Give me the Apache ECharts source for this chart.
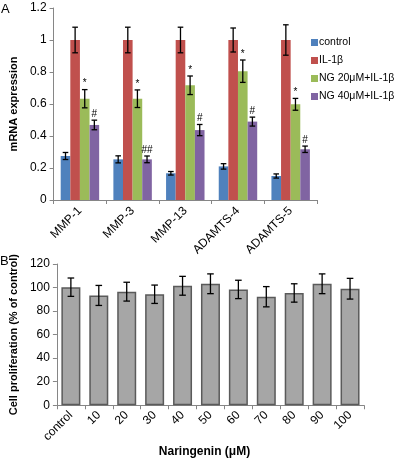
<!DOCTYPE html>
<html><head><meta charset="utf-8">
<script src="https://cdn.jsdelivr.net/npm/echarts@6/dist/echarts.min.js"></script>
<style>html,body{margin:0;padding:0;background:#fff}#c{width:400px;height:459px}</style>
</head><body><div id="c"></div>
<script>
// Panel A data
const genes = ['MMP-1','MMP-3','MMP-13','ADAMTS-4','ADAMTS-5'];
const groupNames = ['control','IL-1β','NG 20μM+IL-1β','NG 40μM+IL-1β'];
const controlVals = [0.275, 0.254, 0.167, 0.21, 0.15];
const controlErr  = [0.022, 0.022, 0.011, 0.017, 0.013];
const il1bVals = [1.0, 1.0, 1.0, 1.0, 1.0];
const il1bErr  = [0.08, 0.08, 0.08, 0.075, 0.095];
const ng20Vals = [0.633, 0.633, 0.717, 0.805, 0.598];
const ng20Err  = [0.057, 0.055, 0.058, 0.07, 0.037];
const ng40Vals = [0.469, 0.254, 0.437, 0.49, 0.317];
const ng40Err  = [0.03, 0.021, 0.035, 0.028, 0.02];
const ng20Marks = ['*','*','*','*','*'];
const ng40Marks = ['#','##','#','#','#'];
const yTicksA = [0, 0.2, 0.4, 0.6, 0.8, 1, 1.2];
// Panel B data
const doses = ['control','10','20','30','40','50','60','70','80','90','100'];
const prolifVals = [100.3, 93.3, 96.5, 94.3, 101.5, 103.2, 98.4, 92.2, 95.4, 103.2, 99];
const prolifErr  = [7.8, 8.5, 8, 7.8, 8, 8.4, 7.8, 8.6, 7.8, 8.4, 8.8];
const yTicksB = [0, 20, 40, 60, 80, 100, 120];

const colors = ['#4f81bd','#c0504d','#9bbb59','#8064a2'];
const FONT = 'Liberation Sans, Arial, sans-serif';
const GAP_A = 0.27;
const vals = [controlVals, il1bVals, ng20Vals, ng40Vals];
const errs = [controlErr, il1bErr, ng20Err, ng40Err];
const marks = [null, null, ng20Marks, ng40Marks];

function errSeries(g) {
  return {
    type: 'custom', xAxisIndex: 0, yAxisIndex: 0, z: 10, silent: true,
    data: genes.map((n, i) => [i, vals[g][i], errs[g][i], marks[g] ? marks[g][i] : '']),
    encode: {x: 0, y: 1},
    renderItem: function (params, api) {
      const i = api.value(0), v = api.value(1), e = api.value(2);
      const c = api.coord([i, v]);
      const t = api.coord([i, v + e]);
      const b = api.coord([i, v - e]);
      const catW = api.size([1, 0])[0];
      const bw = catW * (1 - GAP_A) / 4;
      const x = c[0] + (g - 1.5) * bw;
      const cap = 2.8;
      const st = {stroke: '#000', lineWidth: 1.3};
      const ch = [
        {type: 'line', shape: {x1: x, y1: t[1], x2: x, y2: b[1]}, style: st},
        {type: 'line', shape: {x1: x - cap, y1: t[1], x2: x + cap, y2: t[1]}, style: st},
        {type: 'line', shape: {x1: x - cap, y1: b[1], x2: x + cap, y2: b[1]}, style: st}
      ];
      const m = api.value(3);
      if (m) ch.push({type: 'text', style: {text: m, x: x, y: t[1] - 1, align: 'center', verticalAlign: 'bottom', fontSize: 10, fontFamily: FONT, fill: '#000'}});
      return {type: 'group', children: ch};
    }
  };
}

const axisLine = {show: true, lineStyle: {color: '#868686', width: 1}};
const axisTick = {show: true, length: 4, lineStyle: {color: '#868686'}};
const labelStyle = {color: '#000', fontSize: 12, fontFamily: FONT};

const option = {
  animation: false,
  backgroundColor: '#fff',
  textStyle: {fontFamily: FONT},
  graphic: [
    {type: 'text', left: 1, top: 3, style: {text: 'A', fontSize: 13, fontFamily: FONT, fill: '#000'}},
    {type: 'text', left: 0, top: 255, style: {text: 'B', fontSize: 13, fontFamily: FONT, fill: '#000'}}
  ],
  legend: {
    orient: 'vertical', left: 309, top: 35, itemWidth: 7, itemHeight: 7, itemGap: 7,
    icon: 'rect', data: groupNames, padding: 2,
    textStyle: {fontSize: 10.5, fontFamily: FONT, color: '#000', padding: [0, 0, 0, -4]}
  },
  grid: [
    {left: 42, top: 8, width: 275, height: 192},
    {left: 43, top: 264, width: 321, height: 148}
  ],
  xAxis: [
    {type: 'category', gridIndex: 0, data: genes, axisLine, axisTick,
     axisLabel: Object.assign({rotate: 45, margin: 9, interval: 0}, labelStyle)},
    {type: 'category', gridIndex: 1, data: doses, axisLine, axisTick,
     axisLabel: Object.assign({rotate: 45, margin: 8, interval: 0}, labelStyle),
     name: 'Naringenin (μM)', nameLocation: 'middle', nameGap: 38,
     nameTextStyle: {fontSize: 12, fontWeight: 'bold', fontFamily: FONT, color: '#000', padding: [0, 12, 0, 0]}}
  ],
  yAxis: [
    {type: 'value', gridIndex: 0, min: 0, max: 1.2, interval: 0.2, splitLine: {show: false},
     axisLine, axisTick, axisLabel: Object.assign({margin: 7}, labelStyle),
     name: 'mRNA expression', nameLocation: 'middle', nameGap: 25,
     nameTextStyle: {fontSize: 11, fontWeight: 'bold', fontFamily: FONT, color: '#000'}},
    {type: 'value', gridIndex: 1, min: 0, max: 120, interval: 20, splitLine: {show: false},
     axisLine, axisTick, axisLabel: Object.assign({margin: 7}, labelStyle),
     name: 'Cell proliferation (% of control)', nameLocation: 'middle', nameGap: 27,
     nameTextStyle: {fontSize: 11, fontWeight: 'bold', fontFamily: FONT, color: '#000'}}
  ],
  series: [
    ...groupNames.map((n, g) => ({
      name: n, type: 'bar', xAxisIndex: 0, yAxisIndex: 0, data: vals[g],
      barGap: '0%', barCategoryGap: (GAP_A * 100) + '%',
      itemStyle: {color: colors[g]}
    })),
    ...[0, 1, 2, 3].map(errSeries),
    {type: 'bar', xAxisIndex: 1, yAxisIndex: 1, data: prolifVals, barWidth: 19,
     itemStyle: {color: '#a6a6a6', borderColor: '#5a5a5a', borderWidth: 1.5}},
    {type: 'custom', xAxisIndex: 1, yAxisIndex: 1, z: 10, silent: true,
     data: doses.map((d, i) => [i, prolifVals[i], prolifErr[i]]),
     encode: {x: 0, y: 1},
     renderItem: function (params, api) {
       const i = api.value(0), v = api.value(1), e = api.value(2);
       const t = api.coord([i, v + e]);
       const b = api.coord([i, v - e]);
       const x = t[0];
       const cap = 3.3;
       const st = {stroke: '#000', lineWidth: 1.3};
       return {type: 'group', children: [
         {type: 'line', shape: {x1: x, y1: t[1], x2: x, y2: b[1]}, style: st},
         {type: 'line', shape: {x1: x - cap, y1: t[1], x2: x + cap, y2: t[1]}, style: st},
         {type: 'line', shape: {x1: x - cap, y1: b[1], x2: x + cap, y2: b[1]}, style: st}
       ]};
     }}
  ]
};
const chart = echarts.init(document.getElementById('c'), null, {renderer: 'canvas'});
chart.setOption(option);
</script>
</body></html>
